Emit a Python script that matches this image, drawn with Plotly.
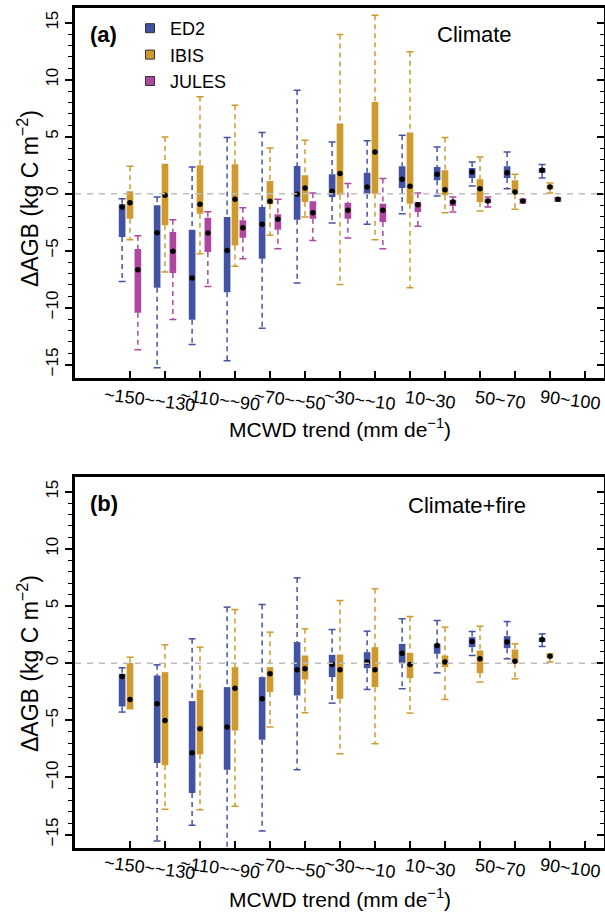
import plotly.graph_objects as go

# ---------------- data ----------------
categories = ["-150~-130", "-130~-110", "-110~-90", "-90~-70", "-70~-50", "-50~-30",
              "-30~-10", "-10~10", "10~30", "30~50", "50~70", "70~90", "90~100"]
tick_labels = ["~150~~130", "~110~~90", "~70~~50", "~30~~10", "10~30", "50~70", "90~100"]
models = ["ED2", "IBIS", "JULES"]
colors = {"ED2": "#4352A2", "IBIS": "#CE9A2E", "JULES": "#AE479F"}
offsets = {"ED2": -0.225, "IBIS": 0.0, "JULES": 0.225}

# Panel (a) Climate
a_ed2_lo = [-7.70, -15.28, -13.24, -14.65, -11.80, -7.85, -2.58, -2.69, -1.76, -0.20, 0.67, 0.44, 1.38]
a_ed2_q1 = [-3.81, -8.26, -11.07, -8.64, -5.71, -2.28, -0.29, 0.00, 0.50, 1.17, 1.38, 1.38, 1.82]
a_ed2_md = [-1.17, -3.43, -7.41, -4.98, -2.69, -0.06, 0.20, 0.59, 1.26, 1.70, 1.90, 1.84, 2.05]
a_ed2_q3 = [-0.94, -1.02, -3.16, -2.05, -1.17, 2.43, 1.70, 1.84, 2.40, 2.34, 2.25, 2.40, 2.25]
a_ed2_hi = [-0.44, -0.29, 2.34, 4.92, 5.36, 9.07, 4.54, 4.63, 5.12, 4.10, 2.78, 3.66, 2.55]

a_ibis_lo = [-4.04, -6.88, -5.27, -6.38, -3.66, -2.05, -7.96, -4.04, -8.26, -1.67, -1.52, -1.38, 0.06]
a_ibis_q1 = [-2.20, -2.78, -1.76, -4.54, -0.94, -0.73, -0.09, 0.00, -0.88, -0.15, -0.73, -0.06, 0.38]
a_ibis_md = [-0.79, -0.15, -0.94, -0.50, -0.67, 0.50, 1.76, 3.66, 0.64, 0.35, 0.44, 0.15, 0.59]
a_ibis_q3 = [0.20, 2.63, 2.49, 2.58, 1.11, 1.61, 6.15, 8.05, 5.36, 2.05, 1.26, 1.17, 0.79]
a_ibis_hi = [2.40, 4.98, 8.49, 7.76, 4.01, 4.68, 13.96, 15.66, 12.44, 4.92, 3.22, 1.70, 0.94]

a_jules_lo = [-13.70, -11.04, -8.14, -5.71, -4.83, -4.10, -3.89, -4.83, -2.87, -1.61, -1.17, -0.82, -0.67]
a_jules_q1 = [-10.45, -6.97, -5.12, -3.86, -3.16, -2.20, -2.20, -2.49, -1.61, -1.08, -0.82, -0.76, -0.61]
a_jules_md = [-6.67, -5.06, -3.45, -2.99, -2.25, -1.67, -1.46, -1.46, -0.97, -0.73, -0.64, -0.64, -0.50]
a_jules_q3 = [-4.86, -3.37, -2.11, -2.34, -1.81, -0.67, -0.79, -0.88, -0.73, -0.53, -0.44, -0.50, -0.41]
a_jules_hi = [-3.69, -2.28, -1.58, -1.23, -0.50, 0.06, 0.88, 1.32, 0.06, -0.29, -0.29, -0.50, -0.35]

# Panel (b) Climate+fire
b_ed2_lo = [-4.28, -15.56, -14.19, -17.50, -14.69, -9.32, -3.50, -2.30, -2.24, -0.85, 0.67, 0.38, 1.46]
b_ed2_q1 = [-3.79, -8.74, -11.36, -9.32, -6.70, -2.83, -1.22, -0.44, 0.00, 0.82, 1.40, 1.31, 1.84]
b_ed2_md = [-1.17, -3.55, -7.84, -5.59, -3.12, -0.58, -0.12, 0.09, 0.87, 1.54, 1.89, 1.84, 2.07]
b_ed2_q3 = [-0.93, -1.08, -3.32, -2.10, -1.22, 1.84, 0.73, 0.96, 1.69, 1.69, 2.27, 2.36, 2.21]
b_ed2_hi = [-0.41, -0.15, 2.13, 4.90, 5.13, 7.46, 2.94, 2.80, 3.88, 3.73, 2.77, 3.64, 2.56]

b_ibis_lo = [-3.99, -12.79, -12.82, -12.53, -5.59, -4.34, -7.93, -7.05, -4.37, -3.18, -1.66, -1.37, 0.09]
b_ibis_q1 = [-3.93, -8.94, -7.98, -5.89, -2.53, -1.43, -3.12, -2.10, -1.31, -0.35, -0.87, 0.00, 0.44]
b_ibis_md = [-3.18, -5.01, -5.74, -2.19, -0.93, -0.50, -0.58, -0.58, -0.12, 0.09, 0.38, 0.17, 0.61]
b_ibis_q3 = [0.03, -0.79, -2.33, -0.35, -0.35, 0.67, 0.76, 1.40, 0.90, 0.67, 1.11, 1.19, 0.76]
b_ibis_hi = [0.52, 1.60, 1.40, 4.69, 2.71, 3.00, 5.48, 6.50, 4.08, 3.15, 3.23, 1.69, 0.82]

panels = [
    ("x", "y", {"ED2": (a_ed2_lo, a_ed2_q1, a_ed2_md, a_ed2_q3, a_ed2_hi),
                "IBIS": (a_ibis_lo, a_ibis_q1, a_ibis_md, a_ibis_q3, a_ibis_hi),
                "JULES": (a_jules_lo, a_jules_q1, a_jules_md, a_jules_q3, a_jules_hi)}),
    ("x2", "y2", {"ED2": (b_ed2_lo, b_ed2_q1, b_ed2_md, b_ed2_q3, b_ed2_hi),
                  "IBIS": (b_ibis_lo, b_ibis_q1, b_ibis_md, b_ibis_q3, b_ibis_hi)}),
]

FONT = "Liberation Sans, Arial, Helvetica, sans-serif"
fig = go.Figure()

for xa, ya, data in panels:
    for m, (lo, q1, md, q3, hi) in data.items():
        xs = [i + offsets[m] for i in range(len(categories))]
        c = colors[m]
        wx, wy = [], []
        for x, l, a, b, h in zip(xs, lo, q1, q3, hi):
            wx += [x, x, None, x, x, None]
            wy += [h, b, None, a, l, None]
        fig.add_trace(go.Scatter(x=wx, y=wy, mode="lines", xaxis=xa, yaxis=ya,
                                 line=dict(color=c, width=1.5, dash="5px,4px"),
                                 showlegend=False, hoverinfo="skip"))
        fig.add_trace(go.Bar(x=xs, y=[b - a for a, b in zip(q1, q3)], base=q1, width=0.19,
                             xaxis=xa, yaxis=ya, marker=dict(color=c, line=dict(width=0)),
                             showlegend=False, hoverinfo="skip"))
        fig.add_trace(go.Scatter(x=xs + xs, y=list(hi) + list(lo), mode="markers",
                                 xaxis=xa, yaxis=ya,
                                 marker=dict(symbol="line-ew", size=5, line=dict(color=c, width=1.5)),
                                 showlegend=False, hoverinfo="skip"))
        fig.add_trace(go.Scatter(x=xs, y=md, mode="markers", xaxis=xa, yaxis=ya,
                                 marker=dict(color="black", size=5.5),
                                 showlegend=False, hoverinfo="skip"))

# legend entries
for m in models:
    fig.add_trace(go.Scatter(x=[None], y=[None], mode="markers", name=m,
                             marker=dict(symbol="square", size=9, color=colors[m],
                                         line=dict(color="#333333", width=1))))
# dummy traces to anchor right-side mirror axes
fig.add_trace(go.Scatter(x=[None], y=[None], xaxis="x", yaxis="y3", showlegend=False))
fig.add_trace(go.Scatter(x=[None], y=[None], xaxis="x2", yaxis="y4", showlegend=False))

W, H = 605, 914
xdom = [75 / W, 604 / W]
ydom_a = [1 - 378.3 / H, 1 - 8.3 / H]
ydom_b = [1 - 848.3 / H, 1 - 477.3 / H]
xr = [-1.571, 13.543]
yr = [-16.2, 16.26]
major = [-15, -10, -5, 0, 5, 10, 15]
minor_vals = [v for v in range(-14, 15) if v % 5 != 0]

def xaxis_cfg(anchor):
    return dict(domain=xdom, range=xr, anchor=anchor, showline=True, linewidth=2.8,
                linecolor="black", mirror=True, ticks="inside", ticklen=7, tickwidth=1.5,
                tickcolor="black", tickmode="array", tickvals=list(range(14)),
                showticklabels=False, showgrid=False, zeroline=False, fixedrange=True)

def yaxis_left(dom, anchor):
    return dict(domain=dom, range=yr, anchor=anchor, showline=True, linewidth=2.8,
                linecolor="black", ticks="outside", ticklen=7, tickwidth=1.5, tickcolor="black",
                tickmode="array", tickvals=major, tickangle=-90,
                tickfont=dict(size=17, color="black", family=FONT),
                minor=dict(tickmode="array", tickvals=minor_vals, ticks="outside", ticklen=4,
                           tickwidth=1.2, tickcolor="black", showgrid=False),
                showgrid=False, zeroline=False, fixedrange=True)

def yaxis_right(overlay, anchor):
    return dict(overlaying=overlay, side="right", range=yr, anchor=anchor, showline=True,
                linewidth=2.8, linecolor="black", ticks="inside", ticklen=7, tickwidth=1.5,
                tickcolor="black", tickmode="array", tickvals=major, showticklabels=False,
                minor=dict(tickmode="array", tickvals=minor_vals, ticks="inside", ticklen=4,
                           tickwidth=1.2, tickcolor="black", showgrid=False),
                showgrid=False, zeroline=False, fixedrange=True)

annotations = []
def px_y(p):
    return 1 - p / H

for xa, ycen_lab, ytitle_x, ytitle_y in [("x", 400, 428, 199), ("x2", 868, 898, 664)]:
    for k, lab in enumerate(tick_labels):
        annotations.append(dict(x=2 * k + 0.5 + 0.08, y=px_y(ycen_lab), xref=xa, yref="paper",
                                text=lab, showarrow=False, textangle=7,
                                xanchor="center", yanchor="middle",
                                font=dict(size=18, color="black", family=FONT)))
    annotations.append(dict(x=(xdom[0] + xdom[1]) / 2, y=px_y(ytitle_x), xref="paper", yref="paper",
                            text="MCWD trend (mm de<sup>\u22121</sup>)", showarrow=False,
                            xanchor="center", yanchor="middle",
                            font=dict(size=21, color="black", family=FONT)))
    annotations.append(dict(x=28 / W, y=px_y(ytitle_y), xref="paper", yref="paper",
                            text="\u0394AGB (kg C m<sup>\u22122</sup>)", showarrow=False,
                            textangle=-90, xanchor="center", yanchor="middle",
                            font=dict(size=23, color="black", family=FONT)))

annotations += [
    dict(x=103.5 / W, y=px_y(35), xref="paper", yref="paper", text="<b>(a)</b>", showarrow=False,
         xanchor="center", yanchor="middle", font=dict(size=22, color="black", family=FONT)),
    dict(x=103.5 / W, y=px_y(503.5), xref="paper", yref="paper", text="<b>(b)</b>", showarrow=False,
         xanchor="center", yanchor="middle", font=dict(size=22, color="black", family=FONT)),
    dict(x=474.5 / W, y=px_y(35), xref="paper", yref="paper", text="Climate", showarrow=False,
         xanchor="center", yanchor="middle", font=dict(size=22, color="black", family=FONT)),
    dict(x=467 / W, y=px_y(505), xref="paper", yref="paper", text="Climate+fire", showarrow=False,
         xanchor="center", yanchor="middle", font=dict(size=22, color="black", family=FONT)),
]

shapes = []
for xa, ya in [("x", "y"), ("x2", "y2")]:
    shapes.append(dict(type="line", xref=f"{xa} domain", yref=ya, x0=0, x1=1, y0=0, y1=0,
                       line=dict(color="#BDBDBD", width=1.5, dash="6px,6px"), layer="above"))

fig.update_layout(
    width=W, height=H, margin=dict(l=0, r=0, t=0, b=0),
    paper_bgcolor="white", plot_bgcolor="white", barmode="overlay",
    font=dict(family=FONT, color="black"),
    xaxis=xaxis_cfg("y"), xaxis2=xaxis_cfg("y2"),
    yaxis=yaxis_left(ydom_a, "x"), yaxis2=yaxis_left(ydom_b, "x2"),
    yaxis3=yaxis_right("y", "x"), yaxis4=yaxis_right("y2", "x2"),
    showlegend=True,
    legend=dict(x=130 / W, y=px_y(10), xanchor="left", yanchor="top",
                bgcolor="rgba(0,0,0,0)", font=dict(size=18, color="black", family=FONT),
                tracegroupgap=0),
    annotations=annotations, shapes=shapes,
)

fig.write_html("out.html")
